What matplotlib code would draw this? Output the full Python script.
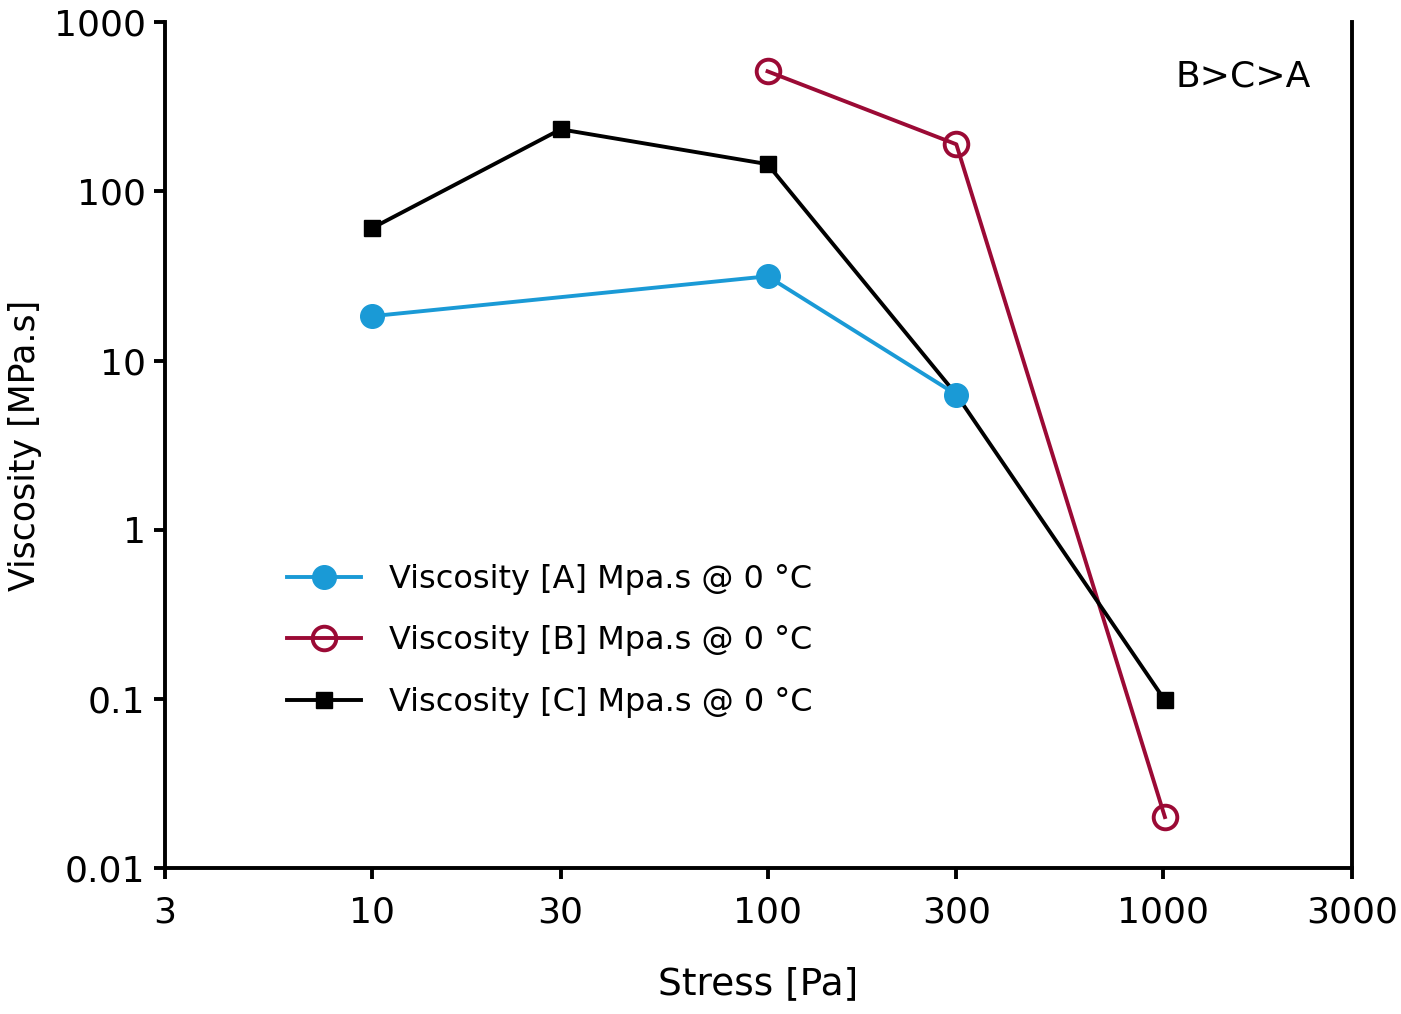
import matplotlib
matplotlib.use("Agg")
import matplotlib.pyplot as plt
from matplotlib.ticker import FixedLocator, FixedFormatter, NullLocator

plt.rcParams['font.family'] = ['DejaVu Sans']

# Data
stress_a = [10, 100, 300]
visc_a = [18.3, 31.5, 6.3]
stress_b = [100, 300, 1010]
visc_b = [513, 190, 0.02]
stress_c = [10, 30, 100, 300, 1010]
visc_c = [60.6, 233, 145, 6.3, 0.098]

labels = ["Viscosity [A] Mpa.s @ 0 °C", "Viscosity [B] Mpa.s @ 0 °C", "Viscosity [C] Mpa.s @ 0 °C"]
xticks = [3, 10, 30, 100, 300, 1000, 3000]
xticklabels = ["3", "10", "30", "100", "300", "1000", "3000"]
yticks = [0.01, 0.1, 1, 10, 100, 1000]
yticklabels = ["0.01", "0.1", "1", "10", "100", "1000"]

blue = "#1a9ad6"
red = "#9b0a35"

fig = plt.figure(figsize=(14.01, 10.14), dpi=100)
ax = fig.add_axes([0.1178, 0.144, 0.965 - 0.1178, 0.978 - 0.144])

ax.plot(stress_a, visc_a, color=blue, lw=2.8, marker='o', ms=17, mec=blue, mfc=blue, label=labels[0], zorder=3)
ax.plot(stress_b, visc_b, color=red, lw=2.8, marker='o', ms=17, mfc='none', mec=red, mew=2.8, label=labels[1], zorder=2)
ax.plot(stress_c, visc_c, color='black', lw=2.8, marker='s', ms=11, label=labels[2], zorder=2)

ax.set_xscale('log')
ax.set_yscale('log')
ax.set_xlim(3, 3000)
ax.set_ylim(0.01, 1000)
ax.xaxis.set_major_locator(FixedLocator(xticks))
ax.xaxis.set_major_formatter(FixedFormatter(xticklabels))
ax.xaxis.set_minor_locator(NullLocator())
ax.yaxis.set_major_locator(FixedLocator(yticks))
ax.yaxis.set_major_formatter(FixedFormatter(yticklabels))
ax.yaxis.set_minor_locator(NullLocator())

ax.spines['top'].set_visible(False)
for s in ['left', 'bottom', 'right']:
    ax.spines[s].set_linewidth(2.8)
ax.tick_params(axis='both', direction='out', length=8, width=2.8, labelsize=26, pad=6)
ax.tick_params(axis='x', pad=12)

ax.set_xlabel("Stress [Pa]", fontsize=27, labelpad=26)
ax.set_ylabel("Viscosity [MPa.s]", fontsize=25)
ax.yaxis.set_label_coords((42 - 165) / 1187, 0.5)

ax.text(0.908, 0.936, "B>C>A", transform=ax.transAxes, fontsize=26, ha='center', va='center')

leg = ax.legend(loc='center', bbox_to_anchor=(550/1401, 1 - 641/1014), bbox_transform=fig.transFigure,
                frameon=False, fontsize=23, handlelength=2.3, handletextpad=0.9, labelspacing=0.95)

fig.savefig("out.png", dpi=100)
